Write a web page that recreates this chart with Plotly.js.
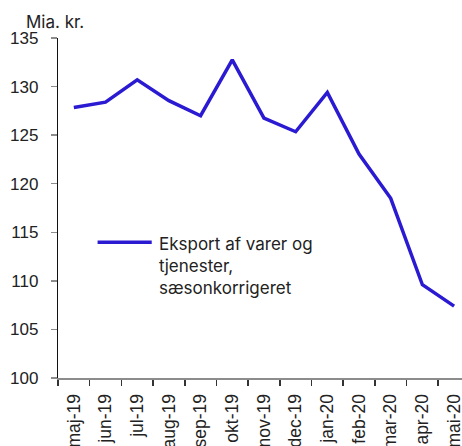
<!DOCTYPE html>
<html>
<head>
<meta charset="utf-8">
<script src="https://cdn.plot.ly/plotly-3.0.1.min.js"></script>
<style>html,body{margin:0;padding:0;overflow:hidden;background:#fff}#chart{width:462px;height:446px}</style>
</head>
<body>
<div id="chart"></div>
<script>
var months = ["maj-19","jun-19","jul-19","aug-19","sep-19","okt-19","nov-19","dec-19","jan-20","feb-20","mar-20","apr-20","mai-20"];
var eksport = [127.85, 128.4, 130.7, 128.55, 127.0, 132.75, 126.75, 125.35, 129.4, 123.05, 118.5, 109.6, 107.4];
var yTicks = [100, 105, 110, 115, 120, 125, 130, 135];
var seriesName = "Eksport af varer og<br>tjenester,<br>sæsonkorrigeret";
var unitLabel = "Mia. kr.";

var lineColor = "#2a1ad2";
var trace = {
  x: months, y: eksport, type: "scatter", mode: "lines",
  line: {color: lineColor, width: 3.5},
  name: seriesName, showlegend: false, hoverinfo: "x+y"
};

var layout = {
  width: 462, height: 446,
  margin: {l: 58, r: 0, t: 38, b: 68, pad: 0},
  paper_bgcolor: "#fff", plot_bgcolor: "#fff",
  showlegend: false,
  font: {family: "Liberation Sans, Arial, sans-serif", size: 17, color: "#222"},
  xaxis: {
    type: "category", range: [-0.5, 12.25], tickangle: -90,
    tickson: "boundaries", ticks: "outside", ticklen: 6, tickwidth: 1.5, tickcolor: "#333",
    ticklabelstandoff: 7,
    showline: true, linecolor: "#8c8c8c", linewidth: 2, showgrid: false, zeroline: false,
    tickfont: {size: 17.5, color: "#222"}, fixedrange: true
  },
  yaxis: {
    range: [100, 135], tickvals: yTicks, ticktext: yTicks.map(String),
    ticks: "outside", ticklen: 6, tickwidth: 1.5, tickcolor: "#8c8c8c",
    ticklabelstandoff: 9,
    showline: true, linecolor: "#111", linewidth: 1.2, showgrid: false, zeroline: false,
    tickfont: {size: 17, color: "#222"}, fixedrange: true
  },
  shapes: [{
    type: "line", xref: "paper", yref: "paper",
    x0: 0.098, x1: 0.232, y0: 0.399, y1: 0.399,
    line: {color: lineColor, width: 3.5}
  }],
  annotations: [
    {text: unitLabel, xref: "paper", yref: "paper", x: -0.084, y: 1, xanchor: "left", yanchor: "bottom",
     yshift: 4, showarrow: false, font: {family: "Inter, Liberation Sans, sans-serif", size: 17, color: "#222"}},
    {text: seriesName, xref: "paper", yref: "paper", x: 0.245, y: 0.43, xanchor: "left", yanchor: "top",
     align: "left", showarrow: false, font: {family: "Inter, Liberation Sans, sans-serif", size: 17, color: "#222"}}
  ]
};

Plotly.newPlot("chart", [trace], layout, {displayModeBar: false, staticPlot: true});
</script>
</body>
</html>
